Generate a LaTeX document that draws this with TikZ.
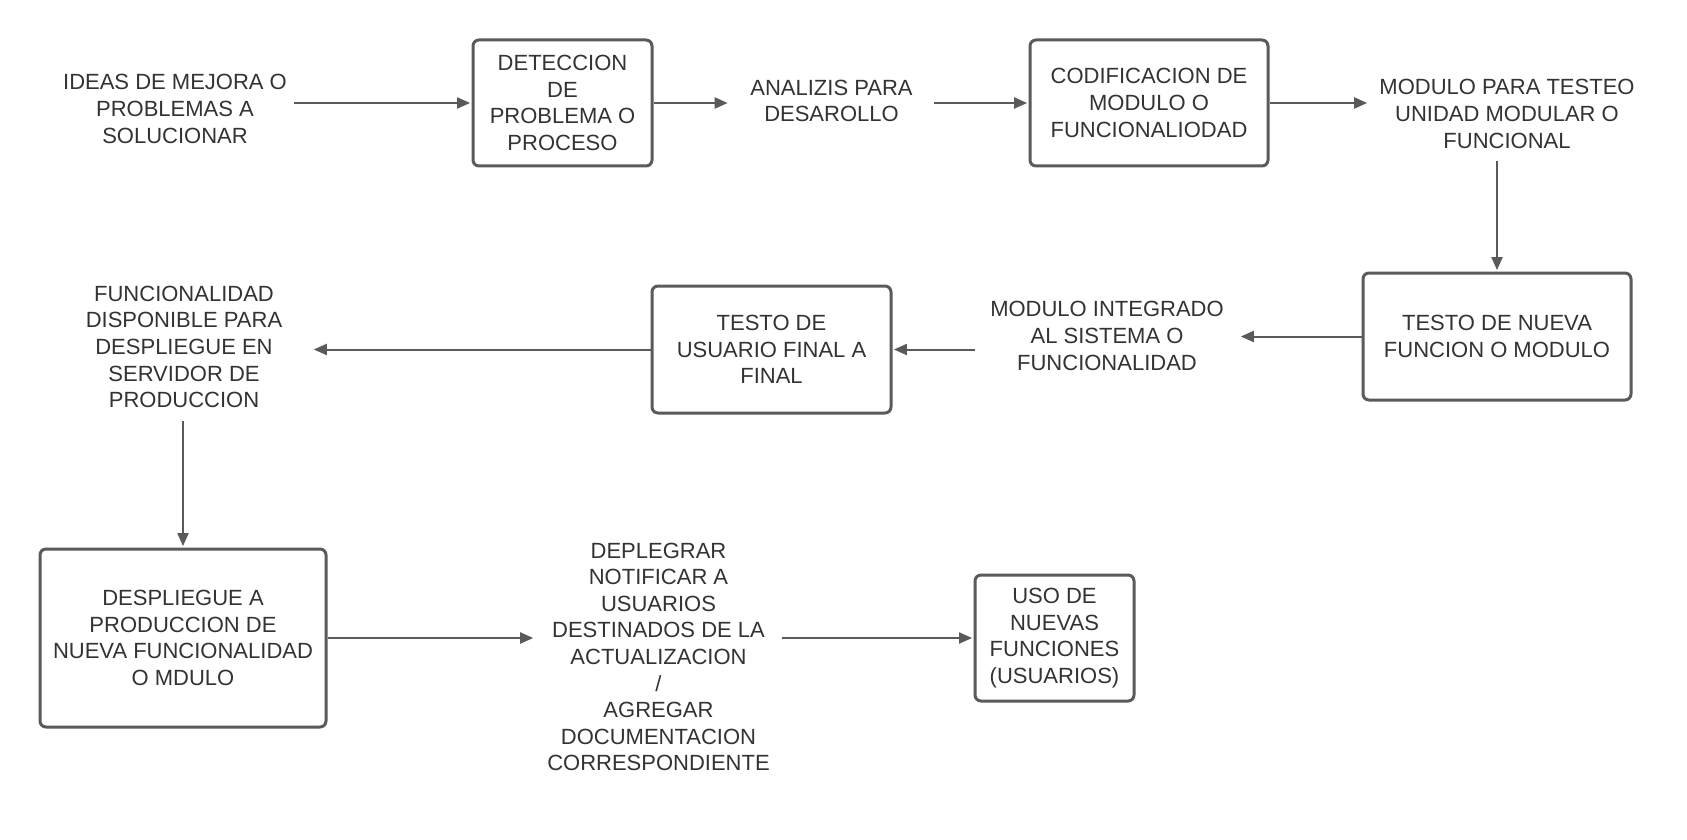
\documentclass[tikz,border=0pt]{standalone}
\usepackage{fontspec}
\setmainfont{Liberation Sans}
\usetikzlibrary{arrows.meta}
\definecolor{linec}{HTML}{5A5A5A}
\definecolor{txtc}{HTML}{333333}
\begin{document}
\begin{tikzpicture}[x=0.5pt,y=-0.5pt,
  txt/.style={align=center, text=txtc, font=\fontsize{11}{13.3}\selectfont, inner sep=0pt},
  box/.style={txt, draw=linec, line width=1.5pt, rounded corners=3pt, fill=white},
  lbl/.style={txt},
  arr/.style={draw=linec, line width=1pt, -{Triangle[length=6.5pt,width=5.5pt]}, shorten >=0.7pt}]
\fill[white] (0,0) rectangle (1687,840);
\useasboundingbox (0,0) rectangle (1687,840);

\node[lbl, minimum width=119pt] (ideas) at (175,109) {IDEAS DE MEJORA O\\PROBLEMAS A\\SOLUCIONAR};
\node[box, minimum width=89.5pt, minimum height=63pt] (det) at (562.5,103) {DETECCION\\DE\\PROBLEMA O\\PROCESO};
\node[lbl, minimum width=102pt] (anal) at (831.5,101) {ANALIZIS PARA\\DESAROLLO};
\node[box, minimum width=119pt, minimum height=63pt] (cod) at (1149,103) {CODIFICACION DE\\MODULO O\\FUNCIONALIODAD};
\node[lbl, minimum width=138pt, minimum height=47pt] (mod) at (1507,114) {MODULO PARA TESTEO\\UNIDAD MODULAR O\\FUNCIONAL};
\node[box, minimum width=134pt, minimum height=63.5pt] (nue) at (1497,336.5) {TESTO DE NUEVA\\FUNCION O MODULO};
\node[lbl, minimum width=132pt] (integ) at (1107,336) {MODULO INTEGRADO\\AL SISTEMA O\\FUNCIONALIDAD};
\node[box, minimum width=119.5pt, minimum height=63.5pt] (usr) at (771.5,349.5) {TESTO DE\\USUARIO FINAL A\\FINAL};
\node[lbl, minimum width=128pt, minimum height=74pt] (func) at (184,347) {FUNCIONALIDAD\\DISPONIBLE PARA\\DESPLIEGUE EN\\SERVIDOR DE\\PRODUCCION};
\node[box, minimum width=143pt, minimum height=89pt] (desp) at (183,638) {DESPLIEGUE A\\PRODUCCION DE\\NUEVA FUNCIONALIDAD\\O MDULO};
\node[lbl, minimum width=123.5pt] (depl) at (658.5,657) {DEPLEGRAR\\NOTIFICAR A\\USUARIOS\\DESTINADOS DE LA\\ACTUALIZACION\\/\\AGREGAR\\DOCUMENTACION\\CORRESPONDIENTE};
\node[box, minimum width=79.5pt, minimum height=63pt] (uso) at (1054.5,638) {USO DE\\NUEVAS\\FUNCIONES\\(USUARIOS)};

\draw[arr] (ideas.east |- det.west) -- (det.west);
\draw[arr] (det.east) -- (anal.west |- det.east);
\draw[arr] (anal.east |- cod.west) -- (cod.west);
\draw[arr] (cod.east) -- (mod.west |- cod.east);
\draw[arr] (mod.south -| nue.north) -- (nue.north);
\draw[arr] (nue.west) -- (integ.east |- nue.west);
\draw[arr] (integ.west |- usr.east) -- (usr.east);
\draw[arr] (usr.west) -- (func.east |- usr.west);
\draw[arr] (func.south -| desp.north) -- (desp.north);
\draw[arr] (desp.east) -- (depl.west |- desp.east);
\draw[arr] (depl.east |- uso.west) -- (uso.west);
\end{tikzpicture}
\end{document}
